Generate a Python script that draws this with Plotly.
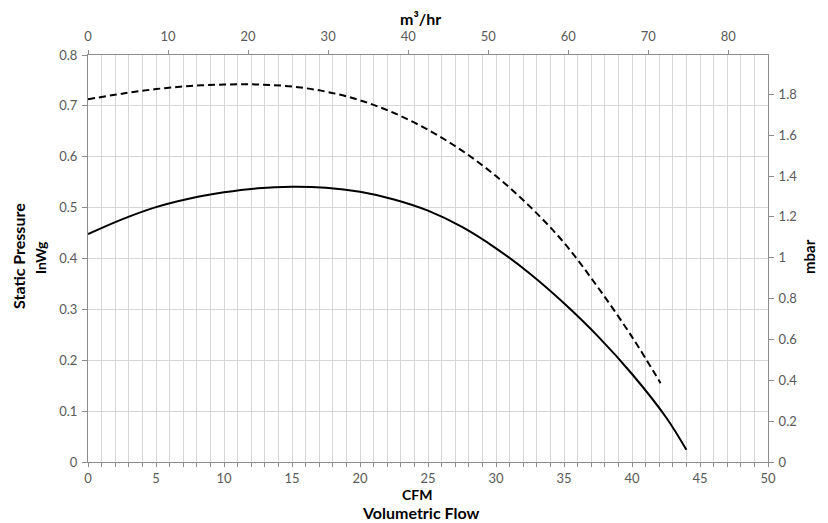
import plotly.graph_objects as go

# Data (CFM vs static pressure in inWg)
cfm_solid = [0, 2.5, 5, 7.5, 10, 12.5, 15, 17.5, 20, 22.5, 25, 27.5, 30, 32.5, 35, 37.5, 40, 42.5, 44]
inwg_solid = [0.448, 0.477, 0.501, 0.518, 0.530, 0.538, 0.541, 0.539, 0.531, 0.516, 0.494,
              0.462, 0.420, 0.370, 0.312, 0.247, 0.173, 0.088, 0.024]

cfm_dash = [0, 2.5, 5, 7.5, 10, 12.5, 15, 17.5, 20, 22.5, 25, 27.5, 30, 32.5, 35, 37.5, 40, 42.1]
inwg_dash = [0.713, 0.724, 0.733, 0.739, 0.742, 0.742, 0.738, 0.728, 0.711, 0.686, 0.653,
             0.612, 0.562, 0.502, 0.431, 0.343, 0.246, 0.155]

CFM_TO_M3H = 1.699
INWG_TO_MBAR = 2.4909
X_MAX = 50
Y_MAX = 0.8

FONT = "Lato, 'Open Sans', sans-serif"
TICK_COLOR = "#595959"
GRID = "#d6d6d6"
AXLINE = "#8c8c8c"

fig = go.Figure()
fig.add_trace(go.Scatter(x=cfm_dash, y=inwg_dash, mode="lines",
                         line=dict(color="black", width=2, dash="7px,4px", shape="spline"),
                         showlegend=False, hoverinfo="skip"))
fig.add_trace(go.Scatter(x=cfm_solid, y=inwg_solid, mode="lines",
                         line=dict(color="black", width=2, shape="spline"),
                         showlegend=False, hoverinfo="skip"))
# Same curve in secondary units, invisible, to carry the top/right axes
fig.add_trace(go.Scatter(x=[v * CFM_TO_M3H for v in cfm_solid],
                         y=[v * INWG_TO_MBAR for v in inwg_solid],
                         xaxis="x2", yaxis="y2", mode="lines",
                         line=dict(color="rgba(0,0,0,0)", width=0),
                         showlegend=False, hoverinfo="skip"))

tickfont = dict(family=FONT, size=13, color=TICK_COLOR)

# page body has an 8px default margin, so the figure is drawn 8px smaller
L, R, T, B = 80, 60, 47, 61
fig.update_layout(
    width=820, height=515,
    margin=dict(l=L, r=R, t=T, b=B),
    paper_bgcolor="white", plot_bgcolor="white",
    xaxis=dict(range=[0, X_MAX], dtick=5, tick0=0, showgrid=True, gridcolor=GRID, gridwidth=1,
               minor=dict(dtick=1, showgrid=True, gridcolor=GRID, ticks="outside", ticklen=4, tickcolor=AXLINE),
               ticks="outside", ticklen=4, tickcolor=AXLINE, ticklabelstandoff=0,
               showline=True, linecolor=AXLINE, linewidth=1, zeroline=False,
               tickfont=tickfont, mirror=False),
    yaxis=dict(range=[0, Y_MAX], dtick=0.1, tick0=0, showgrid=True, gridcolor=GRID, gridwidth=1,
               ticks="outside", ticklen=5, tickcolor=AXLINE, ticklabelstandoff=2,
               showline=True, linecolor=AXLINE, linewidth=1, zeroline=False,
               tickfont=tickfont),
    xaxis2=dict(range=[0, X_MAX * CFM_TO_M3H], dtick=10, tick0=0, overlaying="x", side="top",
                anchor="y", showgrid=False, ticks="outside", ticklen=4, tickcolor=AXLINE,
                ticklabelstandoff=4,
                showline=True, linecolor=AXLINE, linewidth=1, zeroline=False, tickfont=tickfont),
    yaxis2=dict(range=[0, Y_MAX * INWG_TO_MBAR], dtick=0.2, tick0=0, overlaying="y", side="right",
                anchor="x", showgrid=False, ticks="outside", ticklen=5, tickcolor=AXLINE,
                ticklabelstandoff=2,
                showline=True, linecolor=AXLINE, linewidth=1, zeroline=False, tickfont=tickfont),
)

# helpers: convert target page pixel positions to paper coordinates
PX0, PY1 = L + 8, T + 8          # plot-area left / top on the page
PW, PH = 820 - L - R, 515 - T - B


def px_x(px):
    return (px - PX0) / PW


def px_y(py):
    return (PY1 + PH - py) / PH


annots = [
    dict(text="<b>m³/hr</b>", x=px_x(420), y=px_y(19), size=16, angle=0),
    dict(text="<b>CFM</b>", x=px_x(417), y=px_y(494.5), size=14, angle=0),
    dict(text="<b>Volumetric Flow</b>", x=px_x(420), y=px_y(512.5), size=16, angle=0),
    dict(text="<b>Static Pressure</b>", x=px_x(18), y=px_y(256), size=16, angle=-90),
    dict(text="<b>InWg</b>", x=px_x(41), y=px_y(258), size=14, angle=-90),
    dict(text="<b>mbar</b>", x=px_x(809), y=px_y(257), size=15, angle=-90),
]
for a in annots:
    fig.add_annotation(text=a["text"], x=a["x"], y=a["y"], xref="paper", yref="paper",
                       showarrow=False, textangle=a["angle"], xanchor="center", yanchor="middle",
                       borderpad=0,
                       font=dict(family=FONT, size=a["size"], color="black"))

fig.write_html("out.html")
